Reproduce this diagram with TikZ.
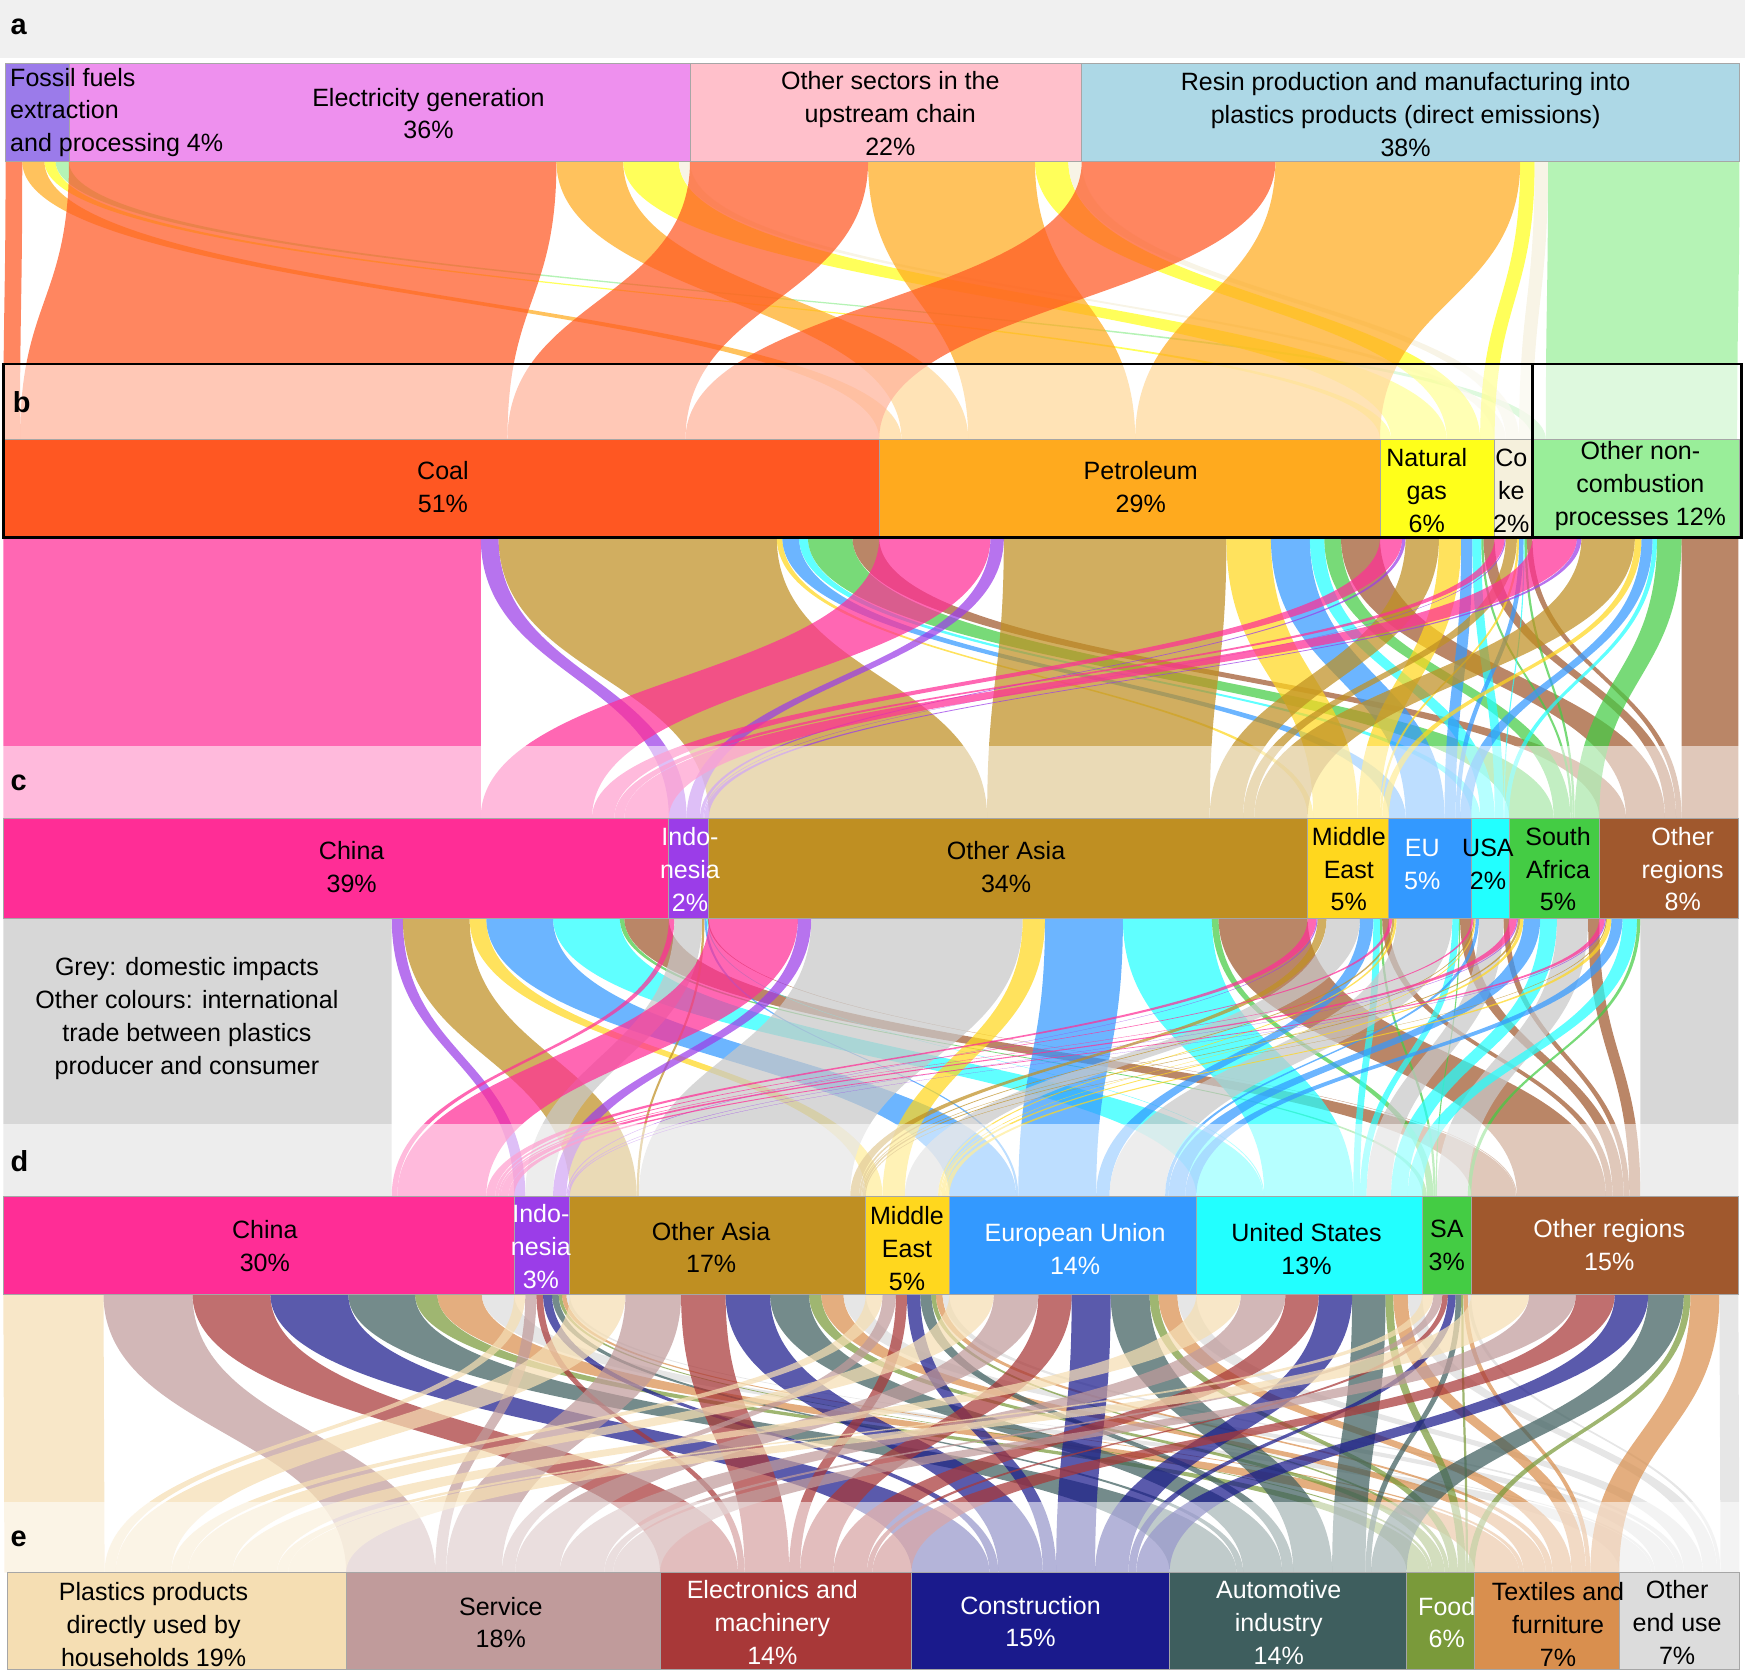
\documentclass[tikz,border=0pt]{standalone}
\usepackage{fontspec}
\setmainfont{Liberation Sans}
\definecolor{fos}{HTML}{9B7BEA}\definecolor{egen}{HTML}{EE90EE}\definecolor{osec}{HTML}{FFC0CB}\definecolor{resin}{HTML}{ADD8E6}
\definecolor{coal}{HTML}{FF5722}\definecolor{petro}{HTML}{FFAA1E}\definecolor{gas}{HTML}{FFFF1A}\definecolor{coke}{HTML}{F5F0DC}\definecolor{nc}{HTML}{99EE99}
\definecolor{china}{HTML}{FF2D96}\definecolor{indo}{HTML}{9B3DE8}\definecolor{oasia}{HTML}{BF8F22}\definecolor{mideast}{HTML}{FFD71E}
\definecolor{eu}{HTML}{3399FF}\definecolor{usa}{HTML}{22FFFF}\definecolor{safr}{HTML}{44CC44}\definecolor{oreg}{HTML}{A0582D}
\definecolor{dom}{HTML}{C8C8C8}
\definecolor{hh}{HTML}{F5DEB3}\definecolor{serv}{HTML}{C09B9B}\definecolor{elec}{HTML}{A83838}\definecolor{cons}{HTML}{1A1A8C}
\definecolor{autoi}{HTML}{3E5E5E}\definecolor{food}{HTML}{7A9A3A}\definecolor{textf}{HTML}{D98F4E}\definecolor{oend}{HTML}{DCDCDC}
\def\fop{0.72}
\newcommand\tinit[1]{\foreach \nn/\xx in {#1}{\expandafter\xdef\csname T\nn\endcsname{\xx}}}
\newcommand\src[2]{\xdef\Spos{#1}%
 \foreach \tg/\ww/\cc in {#2}{%
  \pgfmathsetmacro\xa{\Spos}\pgfmathsetmacro\xb{\Spos+\ww}%
  \pgfmathsetmacro\xc{\csname T\tg\endcsname}\pgfmathsetmacro\xd{\xc+\ww}%
  \fill[fill=\cc,fill opacity=\fop] (\xa,\yA) .. controls (\xa,\yM) and (\xc,\yM) .. (\xc,\yB) -- (\xd,\yB) .. controls (\xd,\yM) and (\xb,\yM) .. (\xb,\yA) -- cycle;%
  \xdef\Spos{\xb}\expandafter\xdef\csname T\tg\endcsname{\xd}}}
\newcommand\setys[2]{\def\yA{#1}\def\yB{#2}\pgfmathsetmacro\yM{(#1+#2)/2}}
\tikzset{box/.style={draw=gray!70,line width=0.8pt},
 lab/.style={font=\fontsize{22.5}{29.5}\selectfont,align=center,inner sep=0pt},
 wl/.style={lab,text=white},
 let/.style={font=\fontsize{26}{28}\selectfont\bfseries,anchor=west}}
\begin{document}
\begin{tikzpicture}[x=1pt,y=-1pt]
\useasboundingbox (0,0) rectangle (1568,1504);
\fill[black!6] (0,0) rectangle (1568,52);
\node[let] (la) at (6,24) {a};
% a -> b
\setys{145}{395}
\tinit{coal/3,petro/790,gas/1240,coke/1343,nc/1377}
\src{5}{coal/15/coal,petro/20/petro,gas/10/gas,nc/12/nc}
\src{62}{coal/438/coal,petro/60/petro,gas/50/gas,coke/10/coke}
\src{620}{coal/160/coal,petro/150/petro,gas/30/gas,coke/12/coke}
\src{972}{coal/174/coal,petro/220/petro,gas/13/gas,coke/12/coke,nc/172/nc}
\fill[white,opacity=0.55] (0,327) rectangle (1568,395);
% b -> c
\setys{483}{735}
\tinit{china/3,indo/601,oasia/637,me/1175,eu/1248,usa/1322,sa/1356,oreg/1437}
\src{3}{china/429/china,indo/16/indo,oasia/250/oasia,me/5/mideast,eu/15/eu,usa/8/usa,sa/40/safr,oreg/24/oreg}
\src{790}{china/100/china,indo/12/indo,oasia/200/oasia,me/40/mideast,eu/35/eu,usa/13/usa,sa/15/safr,oreg/35/oreg}
\src{1240}{china/20/china,indo/3/indo,oasia/30/oasia,me/20/mideast,eu/10/eu,usa/8/usa,sa/2/safr,oreg/10/oreg}
\src{1343}{china/9/china,indo/1/indo,oasia/10/oasia,me/2/mideast,eu/4/eu,usa/1/usa,sa/2/safr,oreg/5/oreg}
\src{1377}{china/40/china,indo/4/indo,oasia/48/oasia,me/6/mideast,eu/10/eu,usa/4/usa,sa/22/safr,oreg/51/oreg}
\fill[white,opacity=0.55] (0,670) rectangle (1568,735);
% c -> d
\setys{825}{1075}
\tinit{dch/3,din/462,doa/512,dme/778,deu/853,dus/1075,dsa/1278,dot/1322}
\src{3}{dch/349/dom,din/10/indo,doa/60/oasia,dme/15/mideast,deu/60/eu,dus/60/usa,dsa/4/safr,dot/40/oreg}
\src{601}{dch/5/china,din/25/dom,doa/2/oasia,deu/2/eu,dus/1/usa,dot/1/oreg}
\src{637}{dch/80/china,din/12/indo,doa/190/dom,dme/20/mideast,deu/70/eu,dus/80/usa,dsa/6/safr,dot/80/oreg}
\src{1175}{dch/8/china,din/1/indo,doa/8/oasia,dme/30/dom,deu/12/eu,dus/6/usa,dsa/2/safr,dot/6/oreg}
\src{1248}{dch/3/china,doa/2/oasia,dme/2/mideast,deu/50/dom,dus/6/usa,dsa/1/safr,dot/10/oreg}
\src{1322}{dch/2/china,doa/1/oasia,dme/1/mideast,deu/3/eu,dus/22/dom,dot/5/oreg}
\src{1356}{dch/7/china,din/1/indo,doa/2/oasia,dme/3/mideast,deu/15/eu,dus/15/usa,dsa/28/dom,dot/10/oreg}
\src{1437}{dch/5/china,din/1/indo,doa/1/oasia,dme/4/mideast,deu/10/eu,dus/13/usa,dsa/3/safr,dot/88/dom}
\fill[white,opacity=0.55] (0,1010) rectangle (1568,1075);
% d -> e
\setys{1163}{1413}
\tinit{hh/4,serv/311,elec/593,cons/819,autoi/1051,food/1264,textf/1325,oend/1455}
\src{3}{hh/90/hh,serv/80/serv,elec/70/elec,cons/70/cons,autoi/60/autoi,food/20/food,textf/40/textf,oend/29/oend}
\src{462}{hh/10/hh,serv/10/serv,elec/6/elec,cons/8/cons,autoi/6/autoi,food/3/food,textf/4/textf,oend/3/oend}
\src{512}{hh/50/hh,serv/50/serv,elec/40/elec,cons/40/cons,autoi/35/autoi,food/11/food,textf/20/textf,oend/20/oend}
\src{778}{hh/15/hh,serv/12/serv,elec/10/elec,cons/12/cons,autoi/10/autoi,food/4/food,textf/6/textf,oend/6/oend}
\src{853}{hh/40/hh,serv/40/serv,elec/30/elec,cons/35/cons,autoi/35/autoi,food/8/food,textf/17/textf,oend/17/oend}
\src{1075}{hh/40/hh,serv/40/serv,elec/30/elec,cons/30/cons,autoi/30/autoi,food/7/food,textf/13/textf,oend/13/oend}
\src{1278}{hh/10/hh,serv/8/serv,elec/5/elec,cons/7/cons,autoi/5/autoi,food/2/food,textf/4/textf,oend/3/oend}
\src{1322}{hh/52/hh,serv/42/serv,elec/35/elec,cons/30/cons,autoi/32/autoi,food/6/food,textf/26/textf,oend/17/oend}
\fill[white,opacity=0.55] (0,1350) rectangle (1568,1413);
% row a
\fill[box,fill=fos] (5,57) rectangle (62,145);
\fill[box,fill=egen] (62,57) rectangle (620,145);
\fill[box,fill=osec] (620,57) rectangle (972,145);
\fill[box,fill=resin] (972,57) rectangle (1563,145);
\node[lab,align=left,anchor=west] (a1) at (9,101) {Fossil fuels\\extraction\\and processing 4\%};
\node[lab] (a2) at (385,102) {Electricity generation\\36\%};
\node[lab] (a3) at (800,102) {Other sectors in the\\upstream chain\\22\%};
\node[lab] (a4) at (1263,103) {Resin production and manufacturing into\\plastics products (direct emissions)\\38\%};
% row b
\node[let] (lb) at (8,361) {b};
\fill[box,fill=coal] (3,395) rectangle (790,483);
\fill[box,fill=petro] (790,395) rectangle (1240,483);
\fill[box,fill=gas] (1240,395) rectangle (1343,483);
\fill[box,fill=coke] (1343,395) rectangle (1377,483);
\fill[box,fill=nc] (1377,395) rectangle (1563,483);
\draw[line width=2.5pt] (3,327) rectangle (1565,483) (1377,327) -- (1377,483);
\node[lab] (b1) at (398,438) {Coal\\51\%};
\node[lab] (b2) at (1025,438) {Petroleum\\29\%};
\node[lab] (b3) at (1282,441) {Natural\\gas\\6\%};
\node[lab] (b4) at (1358,441) {Co\\ke\\2\%};
\node[lab] (b5) at (1474,437) {Other non-\\combustion\\processes 12\%};
% row c
\node[let] (lc) at (6,703) {c};
\fill[box,fill=china] (3,735) rectangle (601,825);
\fill[box,fill=indo] (601,735) rectangle (637,825);
\fill[box,fill=oasia] (637,735) rectangle (1175,825);
\fill[box,fill=mideast] (1175,735) rectangle (1248,825);
\fill[box,fill=eu] (1248,735) rectangle (1322,825);
\fill[box,fill=usa] (1322,735) rectangle (1356,825);
\fill[box,fill=safr] (1356,735) rectangle (1437,825);
\fill[box,fill=oreg] (1437,735) rectangle (1562,825);
\node[lab] (c1) at (316,779) {China\\39\%};
\node[wl] (c2) at (620,781) {Indo-\\nesia\\2\%};
\node[lab] (c3) at (904,779) {Other Asia\\34\%};
\node[lab] (c4) at (1212,781) {Middle\\East\\5\%};
\node[wl] (c5) at (1278,777) {EU\\5\%};
\node[lab] (c6) at (1337,777) {USA\\2\%};
\node[lab] (c7) at (1400,781) {South\\Africa\\5\%};
\node[wl] (c8) at (1512,781) {Other\\regions\\8\%};
\node[lab] (gtxt) at (168,915) {Grey: domestic impacts\\Other colours: international\\trade between plastics\\producer and consumer};
% row d
\node[let] (ld) at (6,1043) {d};
\fill[box,fill=china] (3,1075) rectangle (462,1163);
\fill[box,fill=indo] (462,1075) rectangle (512,1163);
\fill[box,fill=oasia] (512,1075) rectangle (778,1163);
\fill[box,fill=mideast] (778,1075) rectangle (853,1163);
\fill[box,fill=eu] (853,1075) rectangle (1075,1163);
\fill[box,fill=usa] (1075,1075) rectangle (1278,1163);
\fill[box,fill=safr] (1278,1075) rectangle (1322,1163);
\fill[box,fill=oreg] (1322,1075) rectangle (1562,1163);
\node[lab] (d1) at (238,1120) {China\\30\%};
\node[wl] (d2) at (486,1120) {Indo-\\nesia\\3\%};
\node[lab] (d3) at (639,1121) {Other Asia\\17\%};
\node[lab] (d4) at (815,1122) {Middle\\East\\5\%};
\node[wl] (d5) at (966,1122) {European Union\\14\%};
\node[lab] (d6) at (1174,1122) {United States\\13\%};
\node[lab] (d7) at (1300,1119) {SA\\3\%};
\node[wl] (d8) at (1446,1119) {Other regions\\15\%};
% row e
\node[let] (le) at (6,1383) {e};
\fill[box,fill=hh] (7,1413) rectangle (311,1500);
\fill[box,fill=serv] (311,1413) rectangle (593,1500);
\fill[box,fill=elec] (593,1413) rectangle (819,1500);
\fill[box,fill=cons] (819,1413) rectangle (1051,1500);
\fill[box,fill=autoi] (1051,1413) rectangle (1264,1500);
\fill[box,fill=food] (1264,1413) rectangle (1325,1500);
\fill[box,fill=textf] (1325,1413) rectangle (1455,1500);
\fill[box,fill=oend] (1455,1413) rectangle (1563,1500);
\node[lab] (e1) at (138,1460) {Plastics products\\directly used by\\households 19\%};
\node[lab] (e2) at (450,1458) {Service\\18\%};
\node[wl] (e3) at (694,1458) {Electronics and\\machinery\\14\%};
\node[wl] (e4) at (926,1457) {Construction\\15\%};
\node[wl] (e5) at (1149,1458) {Automotive\\industry\\14\%};
\node[wl] (e6) at (1300,1458) {Food\\6\%};
\node[lab] (e7) at (1400,1460) {Textiles and\\furniture\\7\%};
\node[lab] (e8) at (1507,1458) {Other\\end use\\7\%};
\end{tikzpicture}
\end{document}
